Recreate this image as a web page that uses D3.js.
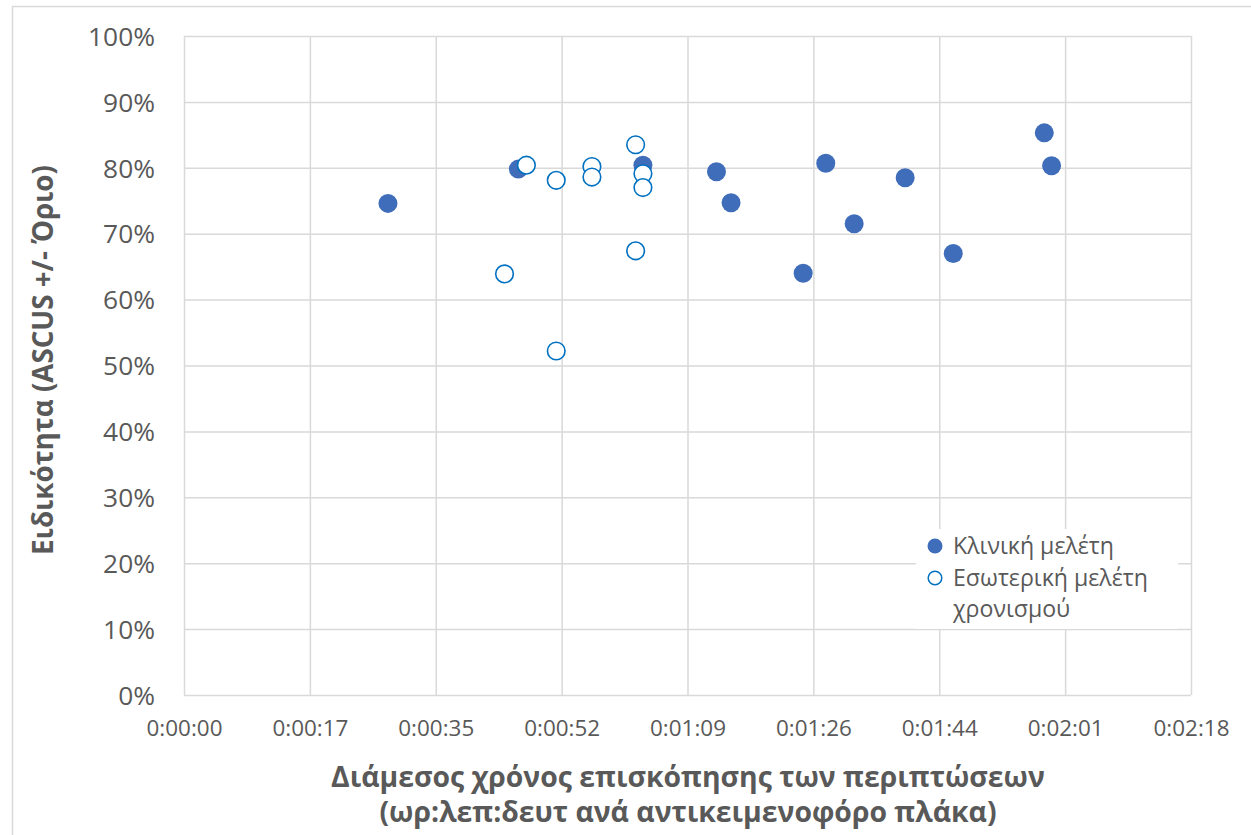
<!DOCTYPE html>
<html>
<head>
<meta charset="utf-8">
<script src="https://cdn.jsdelivr.net/npm/d3@7"></script>
<style>
  html, body { margin: 0; padding: 0; background: #fff; }
  svg { display: block; }
</style>
</head>
<body>
<svg id="chart" width="1251" height="835"></svg>
<script>
// ---- Data (seconds per slide, specificity) ----
const clinicalSeconds = [28.0, 45.9, 63.0, 73.1, 75.1, 85.0, 88.1, 92.0, 99.0, 105.6, 118.1, 119.1];
const clinicalSpec    = [0.746, 0.798, 0.804, 0.794, 0.747, 0.640, 0.807, 0.715, 0.785, 0.670, 0.853, 0.803];
const timingSeconds   = [44.0, 47.0, 51.1, 51.1, 56.0, 56.0, 62.0, 62.0, 63.0, 63.0];
const timingSpec      = [0.639, 0.804, 0.781, 0.522, 0.802, 0.786, 0.835, 0.674, 0.791, 0.770];
const xTickValues = [0, 17.28, 34.56, 51.84, 69.12, 86.4, 103.68, 120.96, 138.24];
const xTickLabels = ["0:00:00","0:00:17","0:00:35","0:00:52","0:01:09","0:01:26","0:01:44","0:02:01","0:02:18"];
const yTickValues = [0, 0.1, 0.2, 0.3, 0.4, 0.5, 0.6, 0.7, 0.8, 0.9, 1.0];
const yTickLabels = ["0%","10%","20%","30%","40%","50%","60%","70%","80%","90%","100%"];
const seriesNames = ["Κλινική μελέτη", "Εσωτερική μελέτη", "χρονισμού"];
const xTitle = ["Διάμεσος χρόνος επισκόπησης των περιπτώσεων", "(ωρ:λεπ:δευτ ανά αντικειμενοφόρο πλάκα)"];
const yTitle = "Ειδικότητα (ASCUS +/- Όριο)";

const svg = d3.select("#chart");
const font = "'Open Sans', 'Noto Sans', sans-serif";
const textColor = "#595959";
const gridColor = "#d9d9d9";
const fillColor = "#3F6DBA";
const openColor = "#0070C0";

const pLeft = 184, pRight = 1191, pTop = 36, pBottom = 695;
const x = d3.scaleLinear().domain([0, 138.24]).range([pLeft, pRight]);
const y = d3.scaleLinear().domain([0, 1]).range([pBottom, pTop]);

// font size that makes a sample string a given width
function fitSize(str, width, weight) {
  const t = svg.append("text").attr("font-family", font).attr("font-weight", weight || "normal")
    .attr("font-size", 20).text(str);
  const w = t.node().getComputedTextLength();
  t.remove();
  return 20 * width / w;
}

// chart border
svg.append("rect").attr("x", 12.5).attr("y", 6.5).attr("width", 1260).attr("height", 850)
  .attr("fill", "#fff").attr("stroke", "#d9d9d9").attr("stroke-width", 1.5);

// gridlines + tick labels
const xTickSize = fitSize(xTickLabels[0], 76);
const xAxis = d3.axisBottom(x).tickValues(xTickValues).tickSize(-(pBottom - pTop))
  .tickFormat((d, i) => xTickLabels[i]);
const gx = svg.append("g").attr("transform", `translate(0,${pBottom})`).call(xAxis);
gx.select(".domain").remove();
gx.selectAll(".tick line").attr("stroke", gridColor).attr("stroke-width", 1.5);
gx.selectAll(".tick text").attr("fill", textColor).attr("font-family", font)
  .attr("font-size", xTickSize).attr("dy", "0.35em").attr("y", 33);

const yTickSize = fitSize(yTickLabels[10], 67);
const yAxis = d3.axisLeft(y).tickValues(yTickValues).tickSize(-(pRight - pLeft))
  .tickFormat((d, i) => yTickLabels[i]);
const gy = svg.append("g").attr("transform", `translate(${pLeft},0)`).call(yAxis);
gy.select(".domain").remove();
gy.selectAll(".tick line").attr("stroke", gridColor).attr("stroke-width", 1.5);
gy.selectAll(".tick text").attr("fill", textColor).attr("font-family", font)
  .attr("font-size", yTickSize).attr("x", -29).attr("dy", "0.35em");

// axis titles
const xTitleSize = fitSize(xTitle[0], 714, "bold");
svg.append("text").attr("x", 688).attr("y", 787).attr("text-anchor", "middle")
  .attr("fill", textColor).attr("font-family", font).attr("font-weight", "bold")
  .attr("font-size", xTitleSize).text(xTitle[0]);
svg.append("text").attr("x", 688).attr("y", 822).attr("text-anchor", "middle")
  .attr("fill", textColor).attr("font-family", font).attr("font-weight", "bold")
  .attr("font-size", xTitleSize).text(xTitle[1]);

const yTitleSize = fitSize(yTitle, 390, "bold");
svg.append("text").attr("transform", "translate(53,360) rotate(-90)")
  .attr("text-anchor", "middle").attr("fill", textColor).attr("font-family", font)
  .attr("font-weight", "bold").attr("font-size", yTitleSize).text(yTitle);

// points
const clinical = clinicalSeconds.map((s, i) => ({ s, v: clinicalSpec[i] }));
const timing = timingSeconds.map((s, i) => ({ s, v: timingSpec[i] }));

svg.append("g").selectAll("circle").data(clinical).join("circle")
  .attr("cx", d => x(d.s)).attr("cy", d => y(d.v)).attr("r", 9.5)
  .attr("fill", fillColor);

svg.append("g").selectAll("circle").data(timing).join("circle")
  .attr("cx", d => x(d.s)).attr("cy", d => y(d.v)).attr("r", 8.8)
  .attr("fill", "#fff").attr("stroke", openColor).attr("stroke-width", 1.6);

// legend
const legendSize = fitSize(seriesNames[1], 195);
const lg = svg.append("g");
lg.append("rect").attr("x", 916).attr("y", 529).attr("width", 262).attr("height", 100).attr("fill", "#fff");
lg.append("circle").attr("cx", 935).attr("cy", 546).attr("r", 7.5).attr("fill", fillColor);
lg.append("circle").attr("cx", 935).attr("cy", 578).attr("r", 6.8).attr("fill", "#fff")
  .attr("stroke", openColor).attr("stroke-width", 1.5);
[554, 586, 617].forEach((yy, i) => {
  lg.append("text").attr("x", 953).attr("y", yy).attr("fill", textColor)
    .attr("font-family", font).attr("font-size", legendSize).text(seriesNames[i]);
});
</script>
</body>
</html>
